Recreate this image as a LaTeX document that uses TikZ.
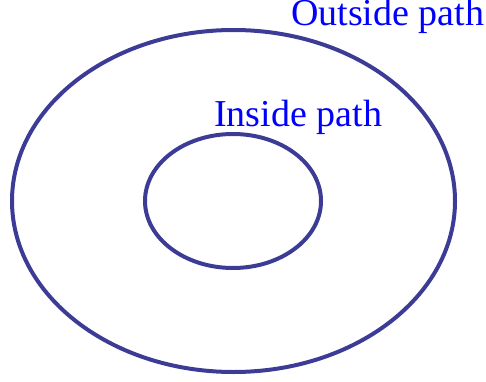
\documentclass[tikz,border=0pt]{standalone}
\usepackage{fontspec}
\setmainfont{Liberation Serif}
\definecolor{pathcol}{RGB}{60,60,150}
\tikzset{
    pathline/.style={draw=pathcol, line width=4pt},
    pathlabel/.style={text=blue, inner sep=0pt, anchor=base west, font=\fontsize{38}{40}\selectfont}
}
\begin{document}
\begin{tikzpicture}[x=1pt, y=1pt]
    \useasboundingbox (0,0) rectangle (486,381);
    % Outside path
    \draw[pathline] (233.5,180) ellipse (221.5 and 171);
    \node[pathlabel] (outlabel) at (291,355) {Outside path};
    % Inside path
    \draw[pathline] (233,180) ellipse (88 and 67);
    \node[pathlabel] (inlabel) at (214,255) {Inside path};
\end{tikzpicture}
\end{document}
